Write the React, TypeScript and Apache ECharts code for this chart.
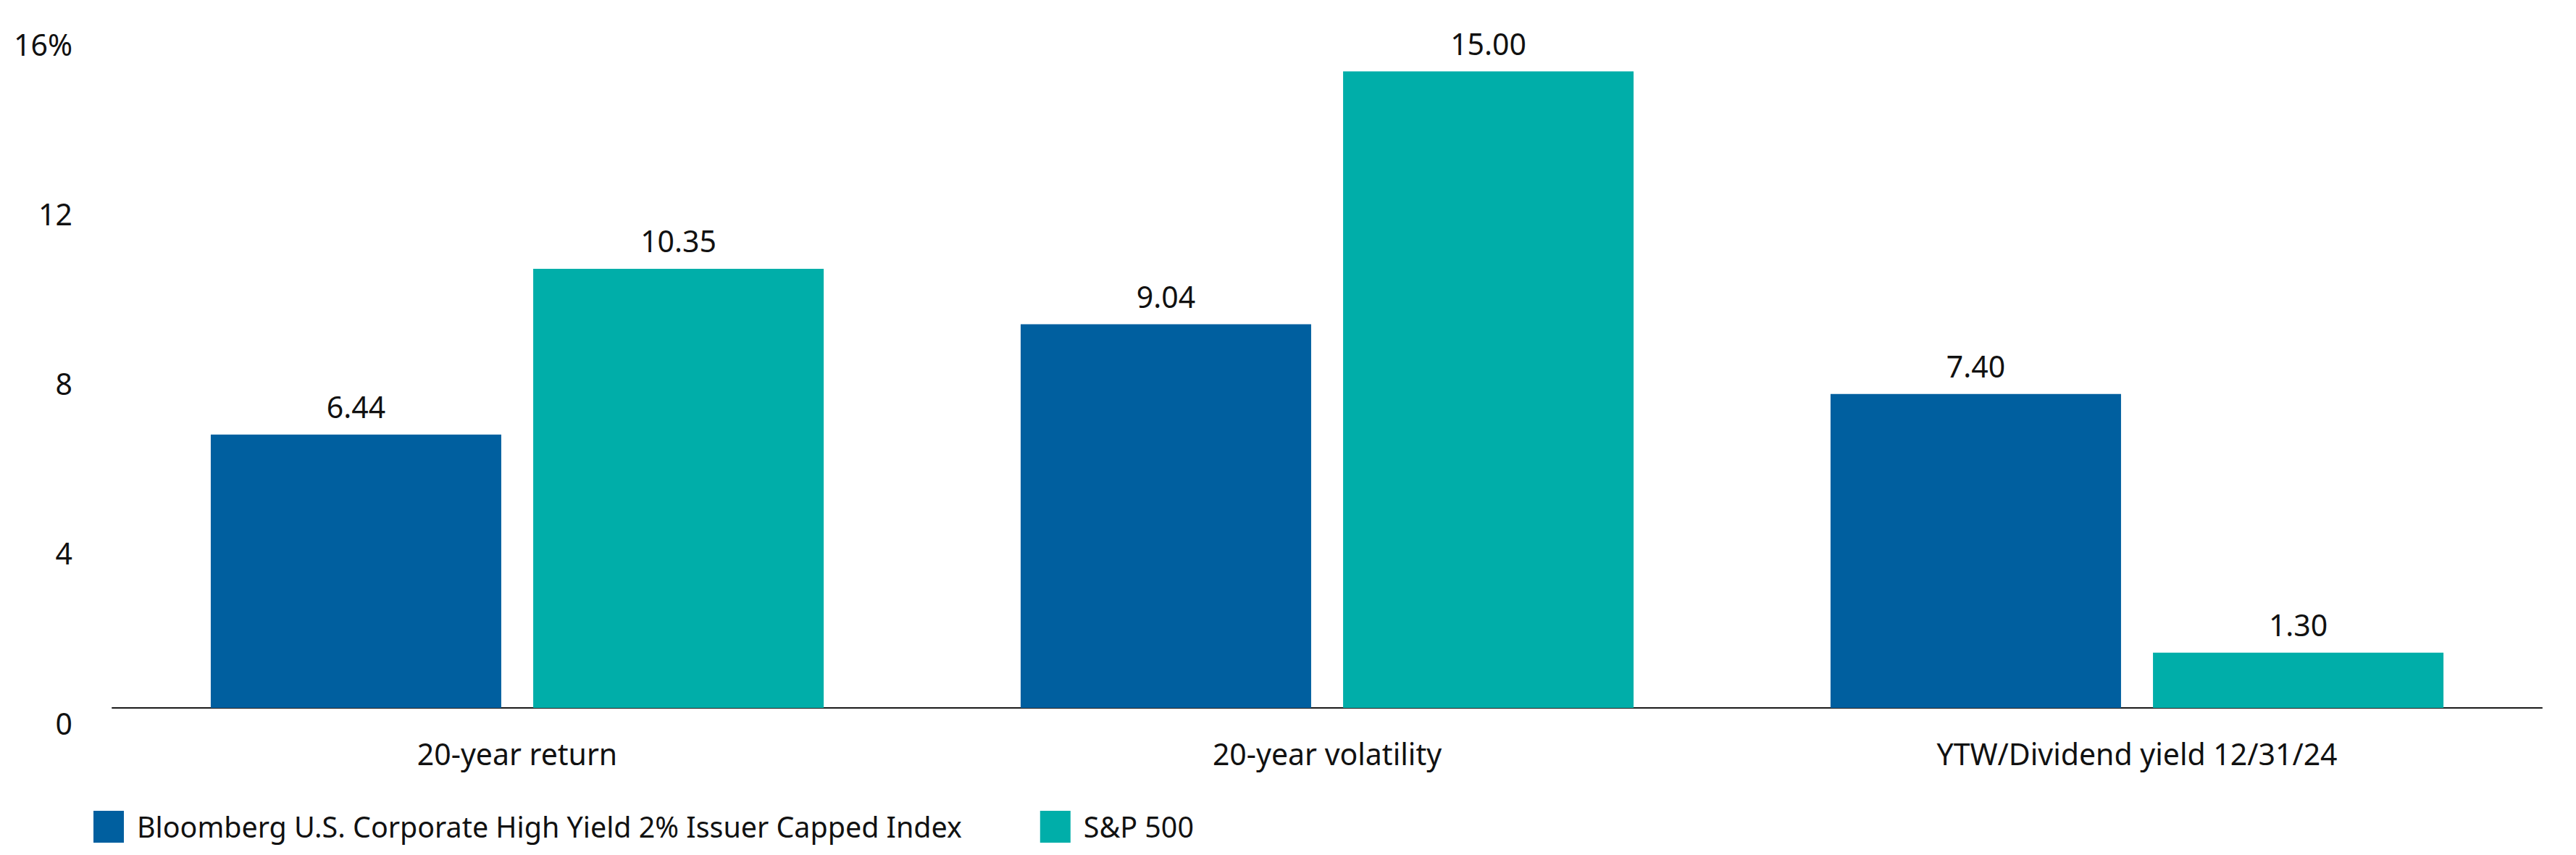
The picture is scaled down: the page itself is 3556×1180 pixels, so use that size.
import { useEffect, useRef } from 'react'
import * as echarts from 'echarts'

const CATEGORIES = ['20-year return', '20-year volatility', 'YTW/Dividend yield 12/31/24']
const SERIES_NAMES = ['Bloomberg U.S. Corporate High Yield 2% Issuer Capped Index', 'S&P 500']
const BLOOMBERG = [6.44, 9.04, 7.4]
const SP500 = [10.35, 15.0, 1.3]
const Y_TICKS = [0, 4, 8, 12, 16]

const COLORS = ['#005f9f', '#00aea9']
const FONT = '"Noto Sans", sans-serif'
const TEXT = '#111111'

export default function App() {
  const elRef = useRef<HTMLDivElement>(null)

  useEffect(() => {
    document.body.style.margin = '0'
    if (!elRef.current) return
    const chart = echarts.init(elRef.current, null, { renderer: 'svg' })

    const label = {
      show: true,
      position: 'top',
      distance: 18,
      fontFamily: FONT,
      fontSize: 41,
      color: TEXT,
      formatter: (p: any) => Number(p.value).toFixed(2),
    }

    chart.setOption({
      animation: false,
      backgroundColor: '#ffffff',
      textStyle: { fontFamily: FONT },
      grid: { left: 155, right: 47, top: 40, bottom: 203, containLabel: false },
      legend: {
        left: 124,
        top: 1114,
        itemWidth: 42,
        itemHeight: 44,
        itemGap: 108,
        icon: 'rect',
        textStyle: { fontFamily: FONT, fontSize: 39.4, color: TEXT, padding: [0, 0, 0, 13] },
        data: SERIES_NAMES,
      },
      xAxis: {
        type: 'category',
        data: CATEGORIES,
        axisLine: { lineStyle: { color: '#1a1a1a', width: 2 } },
        axisTick: { show: false },
        axisLabel: { fontFamily: FONT, fontSize: 41, color: TEXT, margin: 42 },
      },
      yAxis: {
        type: 'value',
        min: Y_TICKS[0],
        max: Y_TICKS[Y_TICKS.length - 1],
        interval: 4,
        axisLine: { show: false },
        axisTick: { show: false },
        splitLine: { show: false },
        axisLabel: {
          fontFamily: FONT,
          fontSize: 41,
          color: TEXT,
          margin: 55,
          verticalAlign: 'top',
          formatter: (v: number) => (v === 16 ? '16%' : String(v)),
        },
      },
      series: [
        {
          name: SERIES_NAMES[0],
          type: 'bar',
          data: BLOOMBERG,
          barWidth: 401,
          barGap: '11%',
          itemStyle: { color: COLORS[0] },
          label,
        },
        {
          name: SERIES_NAMES[1],
          type: 'bar',
          data: SP500,
          barWidth: 401,
          itemStyle: { color: COLORS[1] },
          label,
        },
      ],
    })

    return () => chart.dispose()
  }, [])

  return <div ref={elRef} style={{ width: 3556, height: 1180 }} />
}
